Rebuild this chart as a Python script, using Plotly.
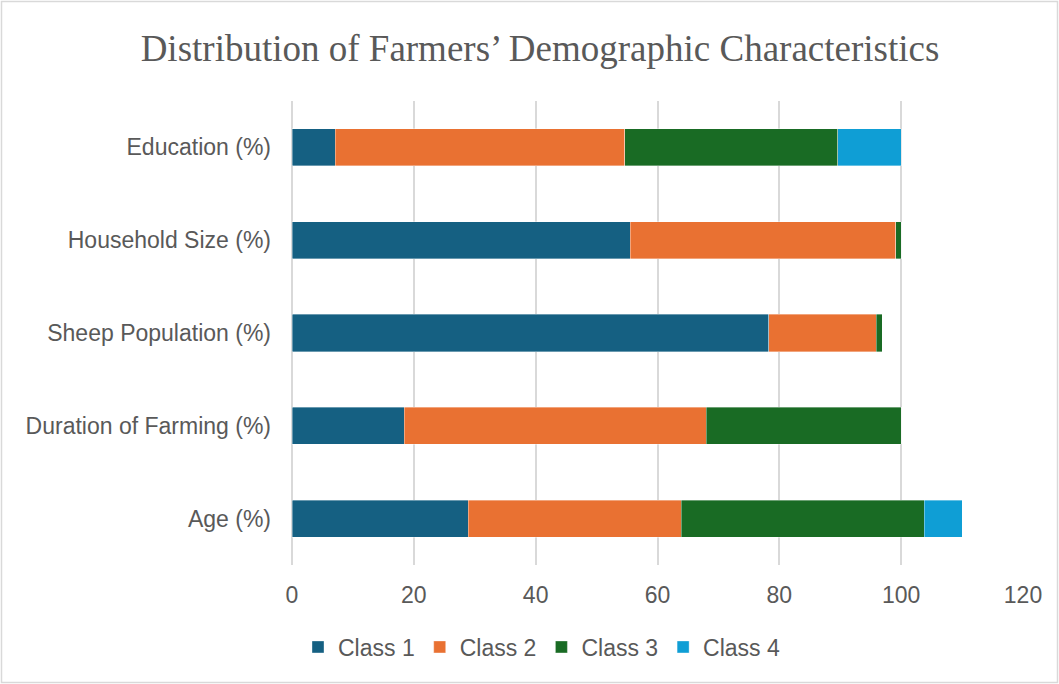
import plotly.graph_objects as go

categories = ["Age (%)", "Duration of Farming (%)", "Sheep Population (%)",
              "Household Size (%)", "Education (%)"]
class1 = [28.9, 18.4, 78.3, 55.5, 7.1]
class2 = [35.0, 49.6, 17.6, 43.6, 47.5]
class3 = [39.9, 32.0, 1.0, 0.9, 35.0]
class4 = [6.2, 0.0, 0.0, 0.0, 10.4]
series_names = ["Class 1", "Class 2", "Class 3", "Class 4"]
colors = ["#156082", "#E97132", "#196B24", "#0F9ED5"]
x_ticks = [0, 20, 40, 60, 80, 100, 120]

W, H = 1059, 684
ml, mr, mt, mb = 292, 36, 101, 119

fig = go.Figure()
for name, vals, col in zip(series_names, [class1, class2, class3, class4], colors):
    fig.add_trace(go.Bar(
        y=categories, x=vals, name=name, orientation="h",
        marker=dict(color=col, line=dict(color="rgba(255,255,255,0.6)", width=0.6)),
    ))

pw = W - ml - mr
ph = H - mt - mb
fig.add_shape(type="rect", xref="paper", yref="paper",
              x0=(1.5 - ml) / pw, x1=(W - 1.5 - ml) / pw,
              y0=-(mb - 1.5) / ph, y1=1 + (mt - 1.5) / ph,
              line=dict(color="#D9D9D9", width=1.5), layer="below")

fig.update_layout(
    width=W, height=H,
    margin=dict(l=ml, r=mr, t=mt, b=mb),
    barmode="stack", bargap=0.6,
    plot_bgcolor="white", paper_bgcolor="white",
    title=dict(text="Distribution of Farmers’ Demographic Characteristics",
               x=540 / W, xref="container", xanchor="center", y=1 - 48 / H, yanchor="middle",
               font=dict(family="Liberation Serif, Times New Roman, serif", size=37, color="#595959")),
    font=dict(family="Liberation Sans, Arial, sans-serif", size=23, color="#595959"),
    legend=dict(orientation="h", x=542 / W, xref="container", xanchor="center",
                y=(H - 647) / H, yref="container", yanchor="middle",
                traceorder="normal", font=dict(size=23, color="#595959"),
                itemwidth=30, bgcolor="rgba(0,0,0,0)"),
    xaxis=dict(range=[0, 120], tickvals=x_ticks, showgrid=True, gridcolor="#D9D9D9",
               gridwidth=1.5, zeroline=True, zerolinecolor="#D9D9D9", zerolinewidth=1.5,
               showline=False, ticks="",
               ticklabelstandoff=14, tickfont=dict(size=23, color="#595959")),
    yaxis=dict(showgrid=False, zeroline=False, showline=False, ticks="",
               ticklabelstandoff=20, tickfont=dict(size=23, color="#595959")),
)

fig.write_html("out.html")
